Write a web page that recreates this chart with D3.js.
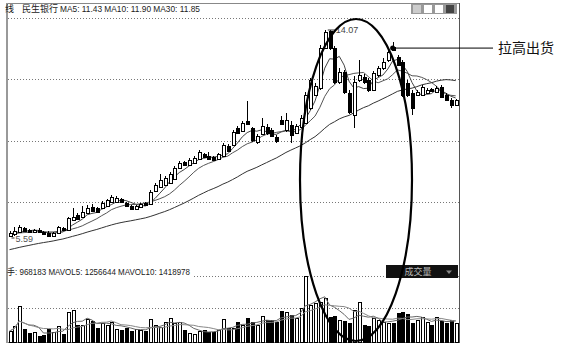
<!DOCTYPE html>
<html><head><meta charset="utf-8">
<script src="https://cdn.jsdelivr.net/npm/d3@7"></script>
<style>body{margin:0;background:#fff}svg{display:block}</style>
</head><body><svg id="c" width="567" height="355"></svg>
<script>
// ---- data (prices in yuan, volume in thousand lots) ----
const opens  = [5.63,5.71,5.79,5.96,5.88,5.79,5.88,5.79,5.75,5.63, 5.75,5.96,5.88,6.29,6.49,6.41,6.57,6.82,6.78,6.78, 6.86,7.02,7.02,7.15,6.98,6.86,6.74,6.82,6.98,6.94, 7.47,7.64,7.72,7.80,7.97,8.42,8.66,8.54,8.62,8.79, 8.99,8.91,8.87,8.79,8.91,9.32,9.36,10.06,9.93,10.34, 10.06,9.48,9.81,10.10,9.97,9.69,10.38,9.97,10.18,9.85, 10.10,10.26,10.87,11.41,11.69,13.33,14.03,13.33,11.94,12.35, 11.49,10.59,12.02,12.15,12.02,11.61,12.23,12.51,12.84,13.37, 12.96,12.76,11.90,11.49,11.41,11.41,11.49,11.65,11.53,11.74, 11.41,11.20,11.00];
const highs  = [5.84,6.00,6.08,6.00,5.92,5.92,5.96,5.84,5.84,5.79, 6.04,6.00,6.41,6.78,6.57,6.86,6.90,6.94,6.82,7.06, 7.15,7.31,7.27,7.19,7.02,6.90,6.90,6.98,7.02,7.52, 7.80,8.17,8.09,8.25,8.50,8.70,8.70,8.83,8.91,9.15, 9.03,9.07,8.91,9.03,9.44,9.40,9.97,10.14,10.34,11.16, 10.10,9.81,10.47,10.22,10.06,9.77,10.55,10.67,10.34,10.22, 10.59,11.53,12.10,11.90,13.46,14.07,14.05,13.41,12.51,12.43, 11.61,12.19,12.84,12.27,12.10,12.39,12.60,12.92,13.33,13.58, 13.05,12.84,12.02,11.61,11.61,11.82,11.69,11.69,11.78,11.82, 11.49,11.28,11.24];
const lows   = [5.59,5.63,5.75,5.79,5.75,5.75,5.75,5.67,5.60,5.60, 5.71,5.84,5.84,6.25,6.29,6.37,6.53,6.61,6.57,6.74, 6.82,6.98,6.98,6.98,6.82,6.70,6.70,6.78,6.86,6.90, 7.43,7.60,7.68,7.76,7.93,8.38,8.50,8.50,8.58,8.74, 8.83,8.74,8.70,8.74,8.87,9.07,9.32,9.81,9.89,10.18, 9.48,9.40,9.77,9.77,9.69,9.44,10.18,9.89,9.44,9.81, 10.06,10.22,10.79,11.37,11.61,13.29,13.25,11.86,11.86,11.45, 10.63,10.06,11.94,11.86,11.53,11.57,12.15,12.43,12.76,13.21, 12.60,11.33,11.33,10.59,11.37,11.37,11.45,11.53,11.49,11.28, 11.16,10.87,10.96];
const closes = [5.75,5.84,6.00,5.84,5.79,5.88,5.79,5.71,5.63,5.75, 6.00,5.88,6.37,6.41,6.33,6.61,6.78,6.65,6.61,6.98, 7.11,7.23,7.19,7.02,6.86,6.74,6.86,6.94,6.90,7.43, 7.72,7.93,8.01,8.17,8.42,8.62,8.54,8.74,8.83,9.07, 8.87,8.79,8.74,8.99,9.36,9.11,9.89,9.85,10.26,10.22, 9.56,9.73,10.14,9.85,9.73,9.52,10.22,10.38,9.77,10.14, 10.47,11.41,12.02,11.78,13.33,14.00,13.33,11.94,12.35,11.53, 10.71,11.94,12.23,11.94,11.61,12.31,12.51,12.76,13.17,13.25, 12.64,11.41,11.41,10.87,11.53,11.74,11.61,11.57,11.69,11.33, 11.20,11.00,11.20];
const volumes = [561,816,1836,663,459,510,306,357,663,510, 816,408,1530,1632,867,867,1173,1071,714,969, 867,1020,663,612,714,561,663,612,561,1173, 867,765,1020,1224,969,1020,612,459,408,561, 612,510,510,612,1173,714,714,1020,867,1224, 1020,867,1326,1122,1122,1020,1581,1530,1377,1224, 1734,3366,1887,1989,2040,2244,1275,1326,1122,1071, 969,1632,2040,867,816,1224,1122,1020,969,969, 1479,1530,1428,969,1122,1275,1020,867,1275,1071, 969,1122,968];
// closes before the visible window (needed for the 30-day average)
const priorCloses = [4.52,4.55,4.58,4.60,4.62,4.63,4.66,4.68,4.70,4.72,4.74,4.76,4.78,4.80,4.85,4.90,4.95,5.00,5.10,5.25,5.45,5.60,5.68,5.70,5.72,5.70,5.74,5.70,5.72];
const maPeriods = [5, 10, 30];
const volMaPeriods = [5, 10];
const headLeft = "线", stockName = "民生银行";
const headMA = "MA5: 11.43 MA10: 11.90 MA30: 11.85";
const volHead = "手: 968183 MAVOL5: 1256644 MAVOL10: 1418978";
const volBoxText = "成交量";
const noteText = "拉高出货";
const highText = "14.07", lowText = "5.59";
const noteIndex = 79;

const N = closes.length;
const svg = d3.select("#c");
const x = d3.scaleLinear().domain([0, N - 1]).range([9.5, 455.7]);
const y = d3.scaleLinear().domain([5.59, 14.07]).range([237, 30]);
const yv = d3.scaleLinear().domain([0, 3366]).range([342, 276]);
const L = 7, R = 459.5;

// frame & grid
const g0 = svg.append("g").attr("shape-rendering", "crispEdges");
[18.5, 79.5, 141.5, 202.5, 276.5, 308.5].forEach(v => {
  g0.append("line").attr("x1", L + 1).attr("x2", R).attr("y1", v).attr("y2", v)
    .attr("stroke", "#777").attr("stroke-dasharray", "1,2");
});
g0.append("line").attr("x1", L).attr("x2", R).attr("y1", 3.5).attr("y2", 3.5).attr("stroke", "#888");
g0.append("line").attr("x1", L).attr("x2", R).attr("y1", 342.5).attr("y2", 342.5).attr("stroke", "#777");
g0.append("line").attr("x1", L).attr("x2", L).attr("y1", 3).attr("y2", 343).attr("stroke", "#999").attr("stroke-width", 2);
g0.append("line").attr("x1", R).attr("x2", R).attr("y1", 3).attr("y2", 343).attr("stroke", "#555");

// moving averages
function ma(arr, n, prior) {
  const all = prior.concat(arr), off = prior.length;
  return arr.map((_, i) => {
    const s = Math.max(0, i + off - n + 1);
    return d3.mean(all.slice(s, i + off + 1));
  });
}
const line = d3.line().x((d, i) => x(i)).y(d => y(d));
maPeriods.forEach((p, k) => {
  svg.append("path").datum(ma(closes, p, priorCloses)).attr("d", line)
    .attr("fill", "none").attr("stroke", ["#444", "#555", "#333"][k]).attr("stroke-width", 1);
});

// candles
const cg = svg.append("g").attr("shape-rendering", "crispEdges");
d3.range(N).forEach(i => {
  const up = closes[i] >= opens[i];
  const cx = Math.round(x(i)) + 0.5;
  cg.append("line").attr("x1", cx).attr("x2", cx).attr("y1", y(highs[i])).attr("y2", y(lows[i]))
    .attr("stroke", "#000");
  const top = y(Math.max(opens[i], closes[i])), bot = y(Math.min(opens[i], closes[i]));
  cg.append("rect").attr("x", cx - 1.5).attr("y", Math.round(top) + 0.5)
    .attr("width", 3).attr("height", Math.max(1, Math.round(bot - top)))
    .attr("fill", up ? "#fff" : "#000").attr("stroke", "#000");
});

// volume
const vg = svg.append("g").attr("shape-rendering", "crispEdges");
d3.range(N).forEach(i => {
  const up = closes[i] >= opens[i];
  const cx = Math.round(x(i)) + 0.5;
  const t = Math.round(yv(volumes[i])) + 0.5;
  vg.append("rect").attr("x", cx - 1.5).attr("y", t).attr("width", 3).attr("height", 342 - t)
    .attr("fill", up ? "#fff" : "#000").attr("stroke", "#000");
});
const vline = d3.line().x((d, i) => x(i)).y(d => yv(d));
volMaPeriods.forEach((p, k) => {
  svg.append("path").datum(ma(volumes, p, [])).attr("d", vline)
    .attr("fill", "none").attr("stroke", ["#666", "#888"][k]).attr("stroke-width", 1);
});

// header
const font = "'Liberation Sans', 'Noto Sans CJK SC', sans-serif";
svg.append("text").attr("x", 5).attr("y", 12).attr("font-size", 9).attr("font-family", "'Noto Sans CJK SC'").attr("fill", "#222").text(headLeft);
svg.append("text").attr("x", 22).attr("y", 12).attr("font-size", 9).attr("font-family", "'Noto Sans CJK SC'").attr("fill", "#222").text(stockName);
svg.append("text").attr("x", 60).attr("y", 12).attr("font-size", 9).attr("font-family", font).attr("fill", "#222")
  .attr("textLength", 140).attr("lengthAdjust", "spacingAndGlyphs").text(headMA);
// toolbar icons
const tb = svg.append("g").attr("shape-rendering", "crispEdges");
tb.append("rect").attr("x", 411).attr("y", 4).attr("width", 46).attr("height", 10).attr("fill", "#999");
[[413, "#ccc"], [424, "#fff"], [435, "#fff"], [446, "#444"]].forEach(([bx, c]) => {
  tb.append("rect").attr("x", bx).attr("y", 5).attr("width", 8).attr("height", 8).attr("fill", c);
});

// volume header
svg.append("rect").attr("x", 8).attr("y", 264).attr("width", 184).attr("height", 14).attr("fill", "#fff");
svg.append("text").attr("x", 7).attr("y", 274.5).attr("font-size", 9).attr("font-family", font).attr("fill", "#222")
  .attr("textLength", 183).attr("lengthAdjust", "spacingAndGlyphs").text(volHead);
svg.append("rect").attr("x", 386).attr("y", 265).attr("width", 72).attr("height", 13).attr("fill", "#111");
svg.append("text").attr("x", 418).attr("y", 275).attr("text-anchor", "middle").attr("font-size", 9)
  .attr("font-family", "'Noto Sans CJK SC'").attr("fill", "#bbb").text(volBoxText);
svg.append("path").attr("d", "M446,270.5 L452,270.5 L449,274 Z").attr("fill", "#888");

// high / low marks
const hi = d3.maxIndex(highs), lo = d3.minIndex(lows);
svg.append("line").attr("x1", x(hi) + 3).attr("x2", x(hi) + 10).attr("y1", y(highs[hi])).attr("y2", y(highs[hi])).attr("stroke", "#333");
svg.append("text").attr("x", x(hi) + 11).attr("y", y(highs[hi]) + 3).attr("font-size", 9).attr("font-family", font).attr("fill", "#444").text(highText);
svg.append("line").attr("x1", x(lo) + 2).attr("x2", x(lo) + 5).attr("y1", y(lows[lo]) + 1).attr("y2", y(lows[lo]) + 1).attr("stroke", "#333");
svg.append("text").attr("x", x(lo) + 6).attr("y", y(lows[lo]) + 5).attr("font-size", 9).attr("font-family", font).attr("fill", "#555").text(lowText);

// annotation
svg.append("ellipse").attr("cx", 356).attr("cy", 180).attr("rx", 56).attr("ry", 161)
  .attr("fill", "none").attr("stroke", "#000").attr("stroke-width", 2.2);
const ny = y(opens[noteIndex]) + 1;
svg.append("line").attr("x1", x(noteIndex)).attr("x2", 493).attr("y1", ny).attr("y2", ny).attr("stroke", "#000");
svg.append("circle").attr("cx", x(noteIndex)).attr("cy", ny).attr("r", 2.5).attr("fill", "#000");
svg.append("text").attr("x", 498).attr("y", ny + 5).attr("font-size", 14).attr("font-family", "'Noto Sans CJK SC'").attr("fill", "#111").text(noteText);
</script></body></html>
